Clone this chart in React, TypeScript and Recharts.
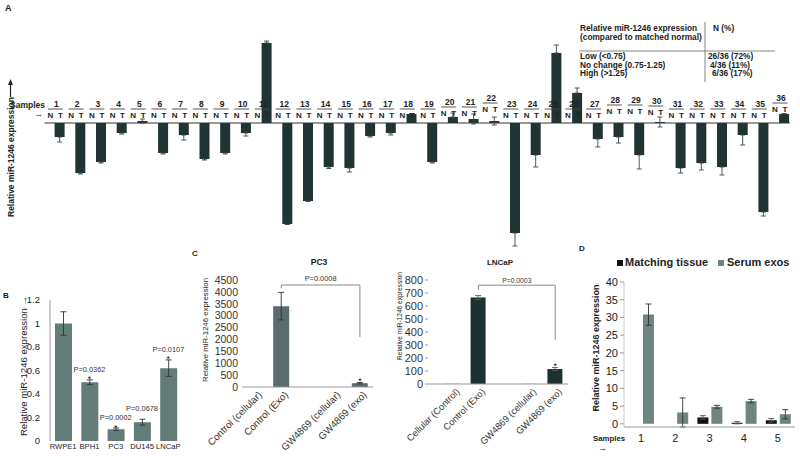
import React from "react";
import {
  BarChart,
  ComposedChart,
  Bar,
  Line,
  XAxis,
  YAxis,
  ErrorBar,
  ReferenceLine,
} from "recharts";

const FONT = "'Liberation Sans', Arial, Helvetica, sans-serif";
const INK = "#222";
const AXIS = "#9a9a9a";

// ---------- A: matched normal (N) / tumour (T) pairs ----------
const A_SAMPLES = [
  "1", "2", "3", "4", "5", "6", "7", "8", "9", "10", "11", "12",
  "13", "14", "15", "16", "17", "18", "19", "20", "21", "22", "23", "24",
  "25", "26", "27", "28", "29", "30", "31", "32", "33", "34", "35", "36",
];
const A_NORMAL = [
  0, 0, 0, 0, 0, 0, 0, 0, 0, 0, 0, 0,
  0, 0, 0, 0, 0, 0, 0, 0, 0, 0, 0, 0,
  0, 0, 0, 0, 0, 0, 0, 0, 0, 0, 0, 0,
];
const A_NORMAL_ERR = [
  0.005, 0.02, 0.01, 0.06, 0.03, 0.02, 0.02, 0.07, 0.01, 0.01, 0.005, 0.03,
  0.01, 0.09, 0.03, 0.01, 0.03, 0.02, 0.05, 0.03, 0.02, 0.02, 0.06, 0.05,
  0.03, 0.07, 0.03, 0.08, 0.07, 0.005, 0.005, 0.02, 0.06, 0.005, 0.06, 0.04,
];
const A_TUMOR = [
  -0.14, -0.5, -0.39, -0.1, 0.02, -0.3, -0.12, -0.36, -0.3, -0.1, 0.8, -1.01,
  -0.78, -0.44, -0.45, -0.13, -0.1, 0.09, -0.39, 0.06, 0.04, 0.02, -1.1, -0.32,
  0.7, 0.3, -0.16, -0.14, -0.32, 0.01, -0.45, -0.4, -0.44, -0.12, -0.89, 0.09,
];
const A_TUMOR_ERR = [
  0.05, 0.01, 0.01, 0.01, 0.02, 0.01, 0.05, 0.01, 0.01, 0.03, 0.02, 0.005,
  0.005, 0.015, 0.04, 0.01, 0.02, 0.005, 0.01, 0.04, 0.05, 0.04, 0.13, 0.12,
  0.08, 0.05, 0.08, 0.06, 0.14, 0.05, 0.05, 0.07, 0.08, 0.1, 0.04, 0.005,
];
// some pair labels sit a bit higher in the figure
const A_LABEL_LIFT: Record<string, number> = {
  "20": 2, "21": 2, "22": 6, "28": 4, "29": 4, "30": 3, "36": 6,
};

const A_TOP = 17;
const A_BOTTOM = 258;
const A_DOMAIN = [-1.35, 1.06];
const A_BASE =
  A_TOP + ((A_BOTTOM - A_TOP) * A_DOMAIN[1]) / (A_DOMAIN[1] - A_DOMAIN[0]);

const aData = A_SAMPLES.map((s, i) => {
  const t = A_TUMOR[i];
  const e = A_TUMOR_ERR[i];
  // error bars only point away from the baseline (except tiny bars)
  const tErr = Math.abs(t) < 0.05 ? [e, e] : t < 0 ? [e, 0] : [0, e];
  return { sample: s, n: A_NORMAL[i], nErr: A_NORMAL_ERR[i], t, tErr };
});

// ---------- B: cell lines ----------
const B_CELLS = ["RWPE1", "BPH1", "PC3", "DU145", "LNCaP"];
const B_VALUES = [1.0, 0.5, 0.1, 0.16, 0.62];
const B_ERR = [0.1, 0.02, 0.01, 0.025, 0.07];
const B_P = ["", "P=0.0362", "P=0.0002", "P=0.0678", "P=0.0107"];
const B_STAR = [false, true, true, false, true];
const B_TICKS = [0, 0.2, 0.4, 0.6, 0.8, 1, 1.2];

const bData = B_CELLS.map((c, i) => ({
  cell: c,
  value: B_VALUES[i],
  err: B_ERR[i],
  top: B_VALUES[i] + B_ERR[i],
}));

// ---------- C: exosome release, PC3 and LNCaP ----------
const C_PC3_CATS = ["Control (cellular)", "Control (Exo)", "", "GW4869 (cellular)", "GW4869 (exo)"];
const C_PC3_VALUES = [1, 3400, null, 1, 160];
const C_PC3_ERR = [null, 580, null, null, 30];
const C_PC3_TICKS = [0, 500, 1000, 1500, 2000, 2500, 3000, 3500, 4000, 4500];
const C_LNCAP_CATS = ["Cellular (Control)", "Control (Exo)", "", "GW4869 (cellular)", "GW4869 (exo)"];
const C_LNCAP_VALUES = [1, 665, null, 1, 115];
const C_LNCAP_ERR = [null, 15, null, null, 12];
const C_LNCAP_TICKS = [0, 100, 200, 300, 400, 500, 600, 700, 800];
const C_STAR = [false, false, false, false, true];

const cData = (cats: string[], vals: (number | null)[], errs: (number | null)[]) =>
  cats.map((name, i) => ({
    name,
    value: vals[i],
    err: errs[i],
    top: vals[i] == null ? null : (vals[i] as number) + (errs[i] ?? 0),
  }));
const pc3Data = cData(C_PC3_CATS, C_PC3_VALUES, C_PC3_ERR);
const lncapData = cData(C_LNCAP_CATS, C_LNCAP_VALUES, C_LNCAP_ERR);

// ---------- D: patient samples ----------
const D_SAMPLES = ["1", "2", "3", "4", "5"];
const D_TISSUE = [null, null, 1.8, 0.3, 1.0];
const D_TISSUE_ERR = [null, null, 0.5, 0.3, 0.5];
const D_SERUM = [30.8, 3.2, 4.8, 6.4, 2.7];
const D_SERUM_ERR = [3.0, 4.1, 0.4, 0.5, 1.3];
const D_TICKS = [0, 5, 10, 15, 20, 25, 30, 35, 40];

const dData = D_SAMPLES.map((s, i) => ({
  sample: s,
  tissue: D_TISSUE[i],
  tissueErr: D_TISSUE_ERR[i],
  serum: D_SERUM[i],
  serumErr: D_SERUM_ERR[i],
}));

const A_BAR = "#213434";
const B_BAR = "#627c78";
const PC3_BAR = "#5b6b6e";
const LNCAP_BAR = "#1d3131";
const D_TISSUE_COL = "#111";
const D_SERUM_COL = "#6e8581";

function ATick(props: any) {
  const { x, payload } = props;
  const b = A_BASE - (A_LABEL_LIFT[payload.value] ?? 0);
  return (
    <g fontFamily={FONT} fontWeight="bold" fill={INK}>
      <text x={x + 1.5} y={b - 16} textAnchor="middle" fontSize={8.5}>
        {payload.value}
      </text>
      <line x1={x - 7} x2={x + 8} y1={b - 14} y2={b - 14} stroke="#444" strokeWidth={0.9} />
      <text x={x - 4.5} y={b - 5} textAnchor="middle" fontSize={8}>N</text>
      <text x={x + 5.5} y={b - 5} textAnchor="middle" fontSize={8}>T</text>
    </g>
  );
}

const rotTick = (fs: number) => (props: any) => {
  const { x, y, payload } = props;
  if (!payload.value) return <g />;
  return (
    <g transform={`translate(${x + 5},${y + 6})`}>
      <text transform="rotate(-45)" textAnchor="end" dy="0.35em" fontSize={fs} fill="#333" fontFamily={FONT}>
        {payload.value}
      </text>
    </g>
  );
};

const starLabel = (stars: boolean[], fs: number) => (p: any) => {
  if (p.value == null || !stars[p.index]) return <g key={`s${p.index}`} />;
  return (
    <text key={`s${p.index}`} x={p.x} y={p.y + 2} textAnchor="middle" fontSize={fs} fontFamily={FONT} fill="#111">
      *
    </text>
  );
};

const bNote = (p: any) => (
  <g key={`b${p.index}`} fontFamily={FONT}>
    {B_STAR[p.index] && (
      <text x={p.x} y={p.y + 2.5} textAnchor="middle" fontSize={9} fill="#111">*</text>
    )}
    {B_P[p.index] && (
      <text x={p.x} y={p.y - 8} textAnchor="middle" fontSize={7.4} fill="#333">
        {B_P[p.index]}
      </text>
    )}
  </g>
);

function Rot({ x, y, size, bold, children }: any) {
  return (
    <text
      transform={`translate(${x},${y}) rotate(-90)`}
      textAnchor="middle"
      fontSize={size}
      fontWeight={bold ? "bold" : "normal"}
      fontFamily={FONT}
      fill={INK}
    >
      {children}
    </text>
  );
}

function Overlay() {
  const t = { fontFamily: FONT, fill: INK };
  return (
    <svg
      width={800}
      height={456}
      style={{ position: "absolute", left: 0, top: 0, pointerEvents: "none" }}
    >
      {/* panel letters */}
      <text x={5} y={11} fontSize={9} fontWeight="bold" {...t}>A</text>
      <text x={3} y={298} fontSize={8} fontWeight="bold" {...t}>B</text>
      <text x={192} y={256} fontSize={8} fontWeight="bold" {...t}>C</text>
      <text x={579} y={251} fontSize={8} fontWeight="bold" {...t}>D</text>

      {/* A axis annotations */}
      <Rot x={14} y={157} size={8.5} bold>Relative miR-1246 expression</Rot>
      <line x1={10.5} x2={10.5} y1={97} y2={83} stroke={INK} strokeWidth={1.2} />
      <polygon points="10.5,79 8,85 13,85" fill={INK} />
      <text x={10} y={108} fontSize={8.5} fontWeight="bold" {...t}>Samples</text>
      <text x={34} y={117} fontSize={9} fontWeight="bold" {...t}>→</text>

      {/* A summary table */}
      <g fontSize={8.3} fontWeight="bold" {...t}>
        <text x={580} y={31}>Relative miR-1246 expression</text>
        <text x={580} y={40}>(compared to matched normal)</text>
        <text x={713} y={31}>N (%)</text>
        <text x={580} y={59}>Low (&lt;0.75)</text>
        <text x={580} y={67.5}>No change (0.75-1.25)</text>
        <text x={580} y={76}>High (&gt;1.25)</text>
        <text x={708} y={59}>26/36 (72%)</text>
        <text x={710} y={67.5}>4/36 (11%)</text>
        <text x={712} y={76}>6/36 (17%)</text>
      </g>
      <line x1={705} x2={705} y1={22} y2={82} stroke="#666" strokeWidth={0.8} />
      <line x1={579} x2={775} y1={51} y2={51} stroke="#666" strokeWidth={0.8} />

      {/* B */}
      <Rot x={27} y={366} size={9.6}>Relative miR-1246 expression →</Rot>

      {/* C */}
      <text x={319} y={265} fontSize={8.5} fontWeight="bold" textAnchor="middle" {...t}>PC3</text>
      <text x={500} y={265} fontSize={8} fontWeight="bold" textAnchor="middle" {...t}>LNCaP</text>
      <Rot x={207.5} y={330} size={7.8}>Relative miR-1246 expression</Rot>
      <Rot x={402} y={316} size={6.6}>Relative miR-1246 expression</Rot>

      {/* D */}
      <Rot x={599} y={348} size={9} bold>Relative miR-1246 expression</Rot>
      <rect x={617} y={260} width={6} height={6} fill={D_TISSUE_COL} />
      <text x={625} y={266} fontSize={11} fontWeight="bold" {...t}>Matching tissue</text>
      <rect x={718} y={260} width={6} height={6} fill={D_SERUM_COL} />
      <text x={727} y={266} fontSize={11} fontWeight="bold" {...t}>Serum exos</text>
      <text x={593} y={441} fontSize={7.8} fontWeight="bold" {...t}>Samples</text>
      <text x={598} y={451} fontSize={9} fontWeight="bold" {...t}>→</text>
    </svg>
  );
}

export default function App() {
  const abs = (left: number, top: number) => ({ position: "absolute" as const, left, top });
  return (
    <div
      style={{
        position: "absolute",
        left: 0,
        top: 0,
        width: 800,
        height: 456,
        background: "#fff",
        overflow: "hidden",
        fontFamily: FONT,
      }}
    >
      {/* A */}
      <div style={abs(0, 0)}>
        <BarChart
          width={800}
          height={270}
          data={aData}
          margin={{ top: A_TOP, right: 10.2, bottom: 270 - A_BOTTOM - 1, left: 44.6 }}
          barSize={10}
          barGap={0}
          barCategoryGap={0}
        >
          <XAxis
            dataKey="sample"
            height={1}
            axisLine={false}
            tickLine={false}
            interval={0}
            tick={<ATick />}
          />
          <YAxis
            width={0}
            type="number"
            domain={A_DOMAIN}
            allowDataOverflow
            tick={false}
            tickLine={false}
            axisLine={{ stroke: "#8c8c8c", strokeWidth: 1.3 }}
          />
          <ReferenceLine y={0} stroke="#333" strokeWidth={1} />
          <Bar dataKey="n" fill={A_BAR} isAnimationActive={false}>
            <ErrorBar dataKey="nErr" width={2.5} stroke="#444" strokeWidth={0.9} />
          </Bar>
          <Bar dataKey="t" fill={A_BAR} isAnimationActive={false}>
            <ErrorBar dataKey="tErr" width={2.5} stroke="#444" strokeWidth={0.9} />
          </Bar>
        </BarChart>
      </div>

      {/* B */}
      <div style={abs(0, 280)}>
        <ComposedChart
          width={200}
          height={176}
          data={bData}
          margin={{ top: 20, right: 18.5, bottom: 0, left: 0 }}
        >
          <XAxis
            dataKey="cell"
            height={15}
            axisLine={false}
            tickLine={false}
            tickSize={0}
            tickMargin={3}
            interval={0}
            tick={{ fontSize: 7.6, fill: INK, fontFamily: FONT }}
          />
          <YAxis
            width={50}
            domain={[0, 1.2]}
            ticks={B_TICKS}
            interval={0}
            tickLine={false}
            tickSize={0}
            tickMargin={10}
            axisLine={{ stroke: AXIS }}
            tick={{ fontSize: 9.5, fill: INK, fontFamily: FONT }}
          />
          <Bar dataKey="value" fill={B_BAR} barSize={17} isAnimationActive={false}>
            <ErrorBar dataKey="err" width={3} stroke="#333" strokeWidth={0.9} />
          </Bar>
          <Line
            dataKey="top"
            stroke="none"
            dot={false}
            activeDot={false}
            isAnimationActive={false}
            label={bNote}
          />
        </ComposedChart>
      </div>

      {/* C: PC3 */}
      <div style={abs(200, 270)}>
        <ComposedChart
          width={195}
          height={186}
          data={pc3Data}
          margin={{ top: 10, right: 22, bottom: 0, left: 0 }}
        >
          <XAxis
            dataKey="name"
            height={69}
            axisLine={{ stroke: AXIS }}
            tickLine={false}
            tickSize={0}
            tickMargin={0}
            interval={0}
            tick={rotTick(9.8)}
          />
          <YAxis
            width={42}
            domain={[0, 4500]}
            ticks={C_PC3_TICKS}
            interval={0}
            axisLine={false}
            tickLine={false}
            tickSize={0}
            tickMargin={4}
            tick={{ fontSize: 10.5, fill: "#333", fontFamily: FONT }}
          />
          <Bar dataKey="value" fill={PC3_BAR} barSize={16} isAnimationActive={false}>
            <ErrorBar dataKey="err" width={3} stroke="#333" strokeWidth={0.9} />
          </Bar>
          <Line
            dataKey="top"
            stroke="none"
            dot={false}
            activeDot={false}
            isAnimationActive={false}
            label={starLabel(C_STAR, 9)}
          />
          <ReferenceLine
            segment={[{ x: "Control (Exo)", y: 4290 }, { x: "GW4869 (exo)", y: 4290 }]}
            stroke="#888"
            label={{ value: "P=0.0008", position: "top", offset: 4, fontSize: 7.4, fill: "#333", fontFamily: FONT }}
          />
          <ReferenceLine
            segment={[{ x: "Control (Exo)", y: 4290 }, { x: "Control (Exo)", y: 4150 }]}
            stroke="#888"
          />
          <ReferenceLine
            segment={[{ x: "GW4869 (exo)", y: 4290 }, { x: "GW4869 (exo)", y: 2100 }]}
            stroke="#888"
          />
        </ComposedChart>
      </div>

      {/* C: LNCaP */}
      <div style={abs(395, 270)}>
        <ComposedChart
          width={195}
          height={186}
          data={lncapData}
          margin={{ top: 10, right: 22, bottom: 0, left: 0 }}
        >
          <XAxis
            dataKey="name"
            height={72}
            padding={{ left: 12, right: 0 }}
            axisLine={{ stroke: AXIS }}
            tickLine={false}
            tickSize={0}
            tickMargin={0}
            interval={0}
            tick={rotTick(9.3)}
          />
          <YAxis
            width={33}
            domain={[0, 800]}
            ticks={C_LNCAP_TICKS}
            interval={0}
            axisLine={false}
            tickLine={{ stroke: AXIS }}
            tickSize={3}
            tickMargin={2}
            tick={{ fontSize: 11, fill: "#333", fontFamily: FONT }}
          />
          <Bar dataKey="value" fill={LNCAP_BAR} barSize={15} isAnimationActive={false}>
            <ErrorBar dataKey="err" width={3} stroke="#555" strokeWidth={0.9} />
          </Bar>
          <Line
            dataKey="top"
            stroke="none"
            dot={false}
            activeDot={false}
            isAnimationActive={false}
            label={starLabel(C_STAR, 9)}
          />
          <ReferenceLine
            segment={[{ x: "Control (Exo)", y: 760 }, { x: "GW4869 (exo)", y: 760 }]}
            stroke="#888"
            label={{ value: "P=0.0003", position: "top", offset: 2, fontSize: 6.8, fill: "#333", fontFamily: FONT }}
          />
          <ReferenceLine
            segment={[{ x: "Control (Exo)", y: 760 }, { x: "Control (Exo)", y: 725 }]}
            stroke="#888"
          />
          <ReferenceLine
            segment={[{ x: "GW4869 (exo)", y: 760 }, { x: "GW4869 (exo)", y: 340 }]}
            stroke="#888"
          />
        </ComposedChart>
      </div>

      {/* D */}
      <div style={abs(590, 250)}>
        <BarChart
          width={210}
          height={206}
          data={dData}
          margin={{ top: 32, right: 5, bottom: 0, left: 0 }}
          barSize={11}
          barGap={3}
        >
          <XAxis
            dataKey="sample"
            height={29}
            axisLine={{ stroke: AXIS }}
            tickLine={false}
            tickSize={0}
            tickMargin={7}
            tick={{ fontSize: 11, fill: INK, fontFamily: FONT }}
          />
          <YAxis
            width={34}
            domain={[0, 40]}
            ticks={D_TICKS}
            interval={0}
            axisLine={{ stroke: "#c8c8c8" }}
            tickLine={{ stroke: AXIS }}
            tickSize={4}
            tickMargin={2}
            tick={{ fontSize: 11, fill: INK, fontFamily: FONT }}
          />
          <Bar dataKey="tissue" fill={D_TISSUE_COL} isAnimationActive={false}>
            <ErrorBar dataKey="tissueErr" width={3} stroke="#555" strokeWidth={0.9} />
          </Bar>
          <Bar dataKey="serum" fill={D_SERUM_COL} isAnimationActive={false}>
            <ErrorBar dataKey="serumErr" width={3} stroke="#333" strokeWidth={0.9} />
          </Bar>
        </BarChart>
      </div>

      <Overlay />
    </div>
  );
}
